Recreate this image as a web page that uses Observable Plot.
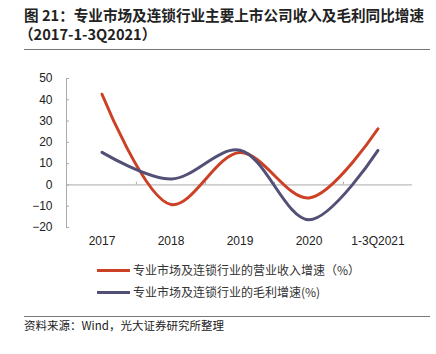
<!DOCTYPE html>
<html><head><meta charset="utf-8">
<script src="https://cdn.jsdelivr.net/npm/d3@7"></script>
<script src="https://cdn.jsdelivr.net/npm/@observablehq/plot@0.6"></script>
<style>
body{margin:0;background:#fff;width:436px;height:354px;position:relative;overflow:hidden;font-family:"Noto Sans CJK SC","Noto Sans",sans-serif;}
.abs{position:absolute;white-space:nowrap;}
#t1,#t2{left:24px;font-size:14.6px;font-weight:bold;color:#222;line-height:18px;}
#t1{top:6px}#t2{top:25px;left:19px}
.rule{position:absolute;left:24px;width:406px;height:1px;background:#777;}
#chart{position:absolute;left:0;top:60px;}
.leg{position:absolute;left:97px;font-size:12px;color:#333;line-height:16px;}
.leg span.sw{display:inline-block;width:33px;height:3px;vertical-align:middle;margin-right:3px;position:relative;top:-1px}
#src{left:24px;top:317px;font-size:11.5px;color:#222;line-height:16px;}
</style></head><body>
<div id="t1" class="abs">图 21：专业市场及连锁行业主要上市公司收入及毛利同比增速</div>
<div id="t2" class="abs">（2017-1-3Q2021）</div>
<div class="rule" style="top:49px"></div>
<div id="chart"></div>
<div class="leg" style="top:262px"><span class="sw" style="background:#CC4125"></span>专业市场及连锁行业的营业收入增速（%）</div>
<div class="leg" style="top:284px"><span class="sw" style="background:#525077"></span>专业市场及连锁行业的毛利增速(%)</div>
<div class="rule" style="top:316px"></div>
<div id="src" class="abs">资料来源：Wind，光大证券研究所整理</div>
<script>
const categories = ["2017","2018","2019","2020","1-3Q2021"];
const revenueGrowth = [42.6, -9.2, 15.2, -6.1, 26.4];
const grossProfitGrowth = [15.3, 2.8, 16.3, -16.4, 16.2];
const yTicks = [-20,-10,0,10,20,30,40,50];
const seriesNames = ["营业收入增速","毛利增速"];
const colors = ["#CC4125","#525077"];

const rows = [];
categories.forEach((c,i)=>{
  rows.push({cat:c, v:revenueGrowth[i], s:seriesNames[0]});
  rows.push({cat:c, v:grossProfitGrowth[i], s:seriesNames[1]});
});
const bw = (412-66)/categories.length;
const chart = Plot.plot({
  width:436, height:195,
  marginLeft:66, marginRight:24, marginTop:18, marginBottom:28,
  style:{fontFamily:"Liberation Sans, Arial, sans-serif", fontSize:"12px", color:"#222"},
  x:{type:"band", domain:categories, padding:0, label:null},
  y:{domain:[-20,50], label:null},
  color:{domain:seriesNames, range:colors},
  marks:[
    Plot.frame({anchor:"left", stroke:"#aaa"}),
    Plot.ruleY([0], {stroke:"#aaa"}),
    Plot.ruleX(categories.slice(1), {x:d=>d, y1:0, y2:1.3, dx:-bw/2, stroke:"#aaa"}),
    Plot.axisY({ticks:yTicks, tickSize:-3, tickFormat:()=>"", stroke:"#aaa", label:null}),
    Plot.axisY({ticks:yTicks, tickSize:0, tickPadding:14, fontSize:12, label:null}),
    Plot.axisX({tickSize:0, tickPadding:9, fontSize:12, label:null}),
    Plot.line(rows, {x:"cat", y:"v", z:"s", stroke:"s", strokeWidth:3, curve:"catmull-rom"})
  ]
});
document.getElementById("chart").appendChild(chart);
</script>
</body></html>
